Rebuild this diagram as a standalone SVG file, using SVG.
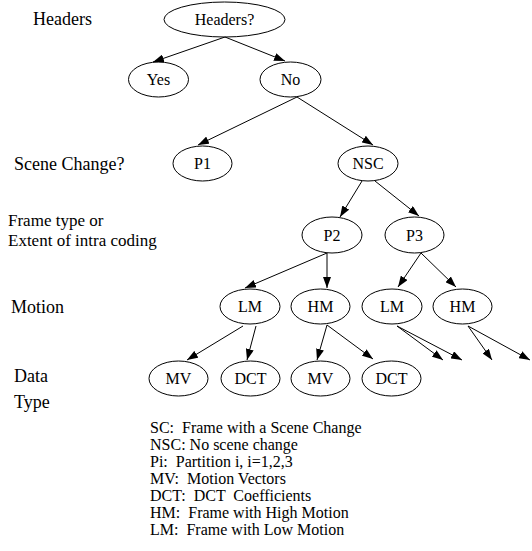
<svg xmlns="http://www.w3.org/2000/svg" width="532" height="551" viewBox="0 0 532 551">
<style>
.n ellipse{fill:none;stroke:#000;stroke-width:1}
.n text{font-family:"Liberation Serif","Times New Roman",serif;font-size:16px;text-anchor:middle;fill:#000}
.lab{font-family:"Liberation Serif","Times New Roman",serif;font-size:18px;fill:#000}
.lab2{font-family:"Liberation Serif","Times New Roman",serif;font-size:17px;fill:#000}
.leg{font-family:"Liberation Serif","Times New Roman",serif;font-size:16px;fill:#000;white-space:pre}
#edges line{stroke:#000;stroke-width:1;marker-end:url(#ah)}
</style>
<defs>
<marker id="ah" markerUnits="userSpaceOnUse" markerWidth="11" markerHeight="8" refX="11" refY="4" orient="auto" viewBox="0 0 11 8">
<path d="M0,0 L11,4 L0,8 z" fill="#000"/>
</marker>
</defs>
<rect width="532" height="551" fill="#fff"/>
<g id="labels">
<text class="lab" x="33" y="25">Headers</text>
<text class="lab" x="14" y="170">Scene Change?</text>
<text class="lab2" x="8" y="226">Frame type or</text>
<text class="lab2" x="8" y="246">Extent of intra coding</text>
<text class="lab" x="11" y="313">Motion</text>
<text class="lab" x="14" y="382">Data</text>
<text class="lab" x="14" y="408">Type</text>
</g>
<g id="edges">
<line x1="225" y1="37" x2="153" y2="62"/>
<line x1="225" y1="37" x2="285" y2="61"/>
<line x1="297" y1="97" x2="198" y2="145"/>
<line x1="297" y1="97" x2="373" y2="145"/>
<line x1="362" y1="181" x2="340" y2="217"/>
<line x1="375" y1="181" x2="419" y2="216"/>
<line x1="327" y1="253" x2="245" y2="288"/>
<line x1="327" y1="253" x2="327" y2="288"/>
<line x1="421" y1="253" x2="398" y2="287"/>
<line x1="421" y1="253" x2="456" y2="287"/>
<line x1="243" y1="326" x2="187" y2="360"/>
<line x1="256" y1="326" x2="247" y2="360"/>
<line x1="327" y1="325" x2="317" y2="360"/>
<line x1="327" y1="325" x2="373" y2="359"/>
<line x1="397" y1="326" x2="443" y2="360"/>
<line x1="397" y1="326" x2="462" y2="360"/>
<line x1="468" y1="326" x2="492" y2="360"/>
<line x1="468" y1="326" x2="530" y2="360"/>
</g>
<g id="n-headers" class="n"><ellipse cx="224.5" cy="19.5" rx="60.5" ry="17.5"/><text x="224.5" y="25">Headers?</text></g>
<g id="n-yes" class="n"><ellipse cx="158.5" cy="79.5" rx="30" ry="17.5"/><text x="158.5" y="85">Yes</text></g>
<g id="n-no" class="n"><ellipse cx="290.5" cy="79.5" rx="30.5" ry="17.5"/><text x="290.5" y="85">No</text></g>
<g id="n-p1" class="n"><ellipse cx="202.5" cy="163.5" rx="29.5" ry="17.5"/><text x="202.5" y="169">P1</text></g>
<g id="n-nsc" class="n"><ellipse cx="368" cy="163.5" rx="30" ry="17.5"/><text x="368" y="169">NSC</text></g>
<g id="n-p2" class="n"><ellipse cx="332" cy="235" rx="30" ry="18"/><text x="332" y="240.5">P2</text></g>
<g id="n-p3" class="n"><ellipse cx="414.5" cy="235" rx="29.5" ry="18"/><text x="414.5" y="240.5">P3</text></g>
<g id="n-lm1" class="n"><ellipse cx="250" cy="306.5" rx="30" ry="17.5"/><text x="250" y="312">LM</text></g>
<g id="n-hm1" class="n"><ellipse cx="320.5" cy="306.5" rx="29.5" ry="17.5"/><text x="320.5" y="312">HM</text></g>
<g id="n-lm2" class="n"><ellipse cx="392" cy="306.5" rx="30" ry="17.5"/><text x="392" y="312">LM</text></g>
<g id="n-hm2" class="n"><ellipse cx="462.5" cy="306.5" rx="29.5" ry="17.5"/><text x="462.5" y="312">HM</text></g>
<g id="n-mv1" class="n"><ellipse cx="178.5" cy="378.5" rx="29.5" ry="17.5"/><text x="178.5" y="384">MV</text></g>
<g id="n-dct1" class="n"><ellipse cx="250.5" cy="378.5" rx="29.5" ry="17.5"/><text x="250.5" y="384">DCT</text></g>
<g id="n-mv2" class="n"><ellipse cx="320.5" cy="378.5" rx="29.5" ry="17.5"/><text x="320.5" y="384">MV</text></g>
<g id="n-dct2" class="n"><ellipse cx="391.5" cy="378.5" rx="29.5" ry="17.5"/><text x="391.5" y="384">DCT</text></g>
<g id="legend">
<text class="leg" x="150" y="433">SC:  Frame with a Scene Change</text>
<text class="leg" x="150" y="450">NSC: No scene change</text>
<text class="leg" x="150" y="467">Pi:  Partition i, i=1,2,3</text>
<text class="leg" x="150" y="484">MV:  Motion Vectors</text>
<text class="leg" x="150" y="501">DCT:  DCT  Coefficients</text>
<text class="leg" x="150" y="518">HM:  Frame with High Motion</text>
<text class="leg" x="150" y="535">LM:  Frame with Low Motion</text>
</g>
</svg>
